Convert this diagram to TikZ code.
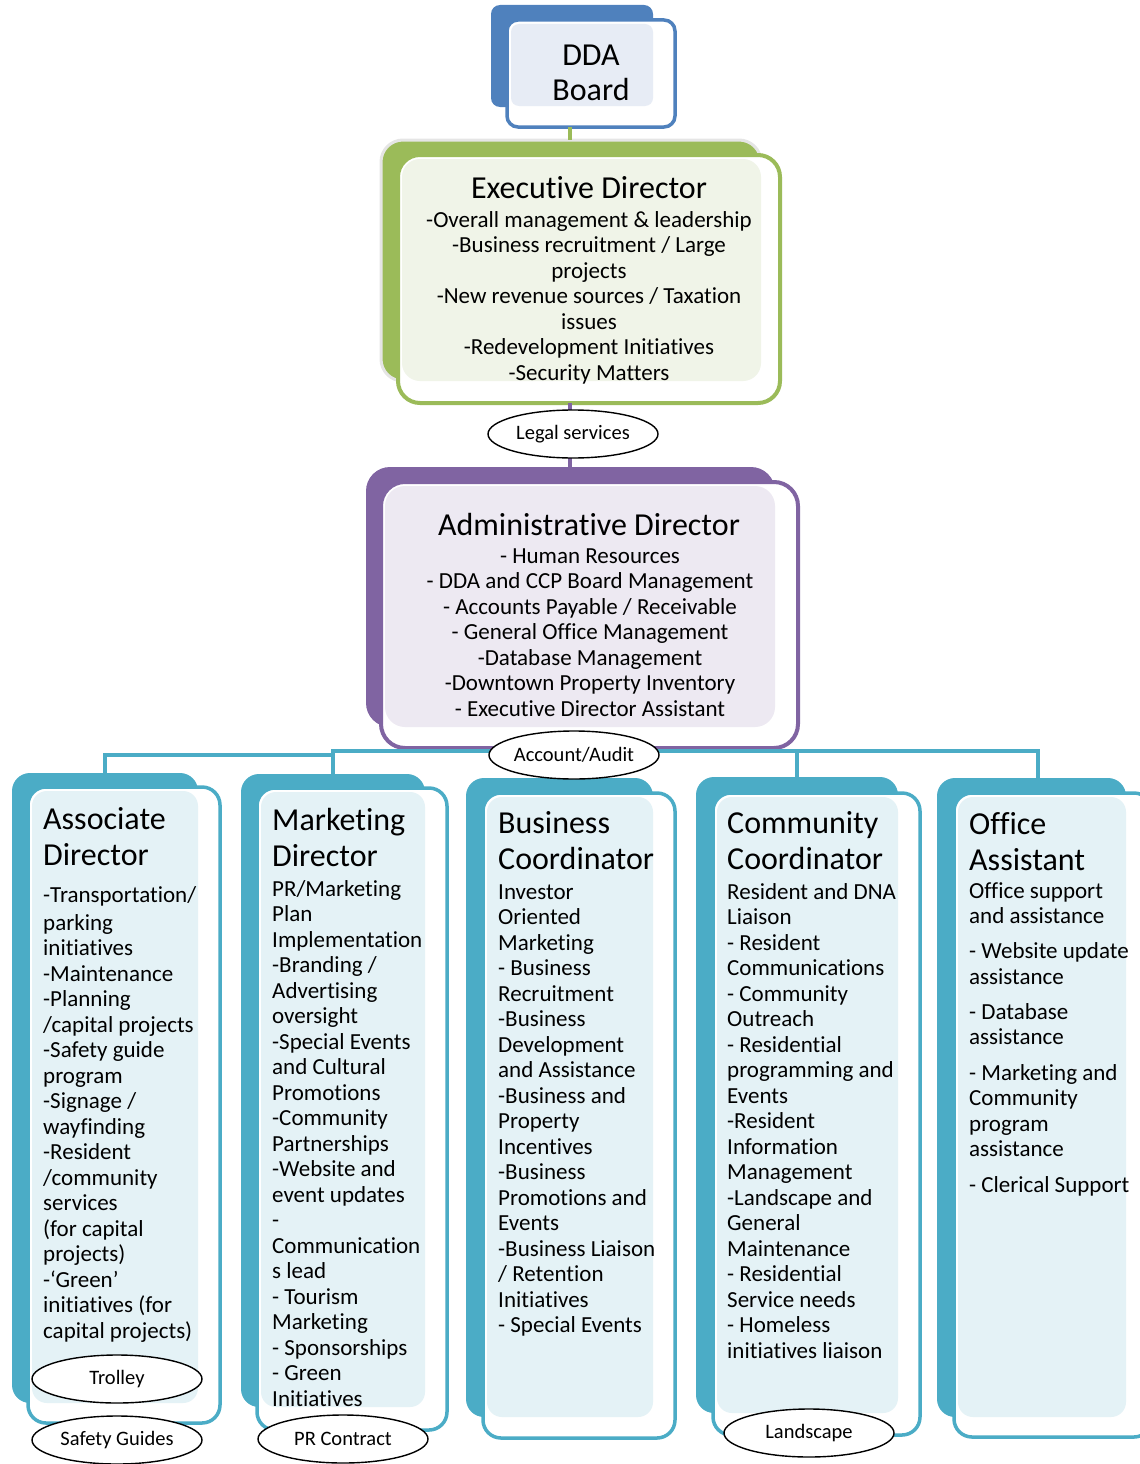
\documentclass[tikz,border=0pt]{standalone}
\usepackage{fontspec}
\setmainfont[Ligatures=NoCommon]{Carlito}
\usetikzlibrary{fit,shapes.geometric}

\definecolor{bbBlue}{HTML}{4F81BD}
\definecolor{bbBluePale}{HTML}{E7ECF5}
\definecolor{bbGreen}{HTML}{9BBB59}
\definecolor{bbGreenPale}{HTML}{F0F4E8}
\definecolor{bbPurple}{HTML}{8064A2}
\definecolor{bbPurplePale}{HTML}{EDE9F2}
\definecolor{bbTeal}{HTML}{4BACC6}
\definecolor{bbTealPale}{HTML}{E4F2F6}

\begin{document}
\begin{tikzpicture}[x=1pt, y=-1pt,
  backpanel/.style={fill=#1, draw=none, rounded corners=18pt, inner sep=0pt, outer sep=0pt},
  frontpanel/.style={fill=white, draw=#1, line width=3.5pt, rounded corners=18pt, inner sep=0pt, outer sep=0pt},
  palepanel/.style={fill=#1, draw=none, rounded corners=15pt, inner sep=0pt, outer sep=0pt},
  titletext/.style={font=\fontsize{32}{36}\selectfont, inner sep=0pt, anchor=base west},
  bodytext/.style={font=\fontsize{23}{25.5}\selectfont, inner sep=0pt, anchor=base west},
  ctitle/.style={font=\fontsize{32}{35}\selectfont, inner sep=0pt, anchor=base},
  cbody/.style={font=\fontsize{23}{25.5}\selectfont, inner sep=0pt, anchor=base},
  tag/.style={ellipse, draw=black, line width=1.4pt, fill=white, minimum width=170pt, minimum height=48pt, inner sep=0pt, font=\fontsize{20.5}{24}\selectfont},
  link/.style={line width=4pt, draw=#1}
]
\useasboundingbox (0,0) rectangle (1140,1464);
\clip (0,0) rectangle (1140,1464);

% ---------- DDA Board ----------
\node[backpanel=bbBlue, rounded corners=9pt, fit={(491,5) (653,107)}] (ddaB) {};
\node[frontpanel=bbBlue, rounded corners=11pt, fit={(507,20) (675,127)}] (ddaF) {};
\node[palepanel=bbBluePale, rounded corners=8pt, fit={(511,24) (653,106)}] (ddaP) {};
\node[ctitle] (ddaT) at (591,66) {\parbox[t]{150pt}{\centering DDA\\Board}};

% ---------- Executive Director ----------
\node[backpanel=bbGreen, draw=black!10, line width=3pt, rounded corners=22pt, fit={(381,140) (761,381)}] (execB) {};
\node[frontpanel=bbGreen, line width=4pt, rounded corners=22pt, fit={(398,155) (780,403)}] (execF) {};
\node[palepanel=bbGreenPale, rounded corners=18pt, fit={(402,159) (761,381)}] (execP) {};
\node[ctitle] (execT) at (589,198) {\parbox[t]{360pt}{\centering Executive Director}};
\node[cbody] (execD) at (589,227) {\parbox[t]{360pt}{\centering
-Overall management \& leadership\\
-Business recruitment / Large\\
projects\\
-New revenue sources / Taxation\\
issues\\
-Redevelopment Initiatives\\
-Security Matters}};

% ---------- Administrative Director ----------
\node[backpanel=bbPurple, rounded corners=24pt, fit={(366,467) (775,727)}] (admB) {};
\node[frontpanel=bbPurple, line width=4pt, rounded corners=24pt, fit={(381,482) (798,748)}] (admF) {};
\node[palepanel=bbPurplePale, rounded corners=20pt, fit={(385,486) (775,727)}] (admP) {};
\node[ctitle] (admT) at (589,535) {\parbox[t]{400pt}{\centering Administrative Director}};
\node[cbody] (admD) at (590,563) {\parbox[t]{400pt}{\centering
- Human Resources\\
- DDA and CCP Board Management\\
- Accounts Payable / Receivable\\
- General Office Management\\
-Database Management\\
-Downtown Property Inventory\\
- Executive Director Assistant}};

% ---------- Staff columns ----------
\node[backpanel=bbTeal, fit={(12,773) (198,1403)}] (c1B) {};
\node[frontpanel=bbTeal, fit={(28,787) (220,1423)}] (c1F) {};
\node[palepanel=bbTealPale, fit={(32,791) (198,1403)}] (c1P) {};

\node[backpanel=bbTeal, fit={(241,774) (425,1407)}] (c2B) {};
\node[frontpanel=bbTeal, fit={(257,788) (447,1430)}] (c2F) {};
\node[palepanel=bbTealPale, fit={(261,792) (425,1407)}] (c2P) {};

\node[backpanel=bbTeal, fit={(466,778) (653,1417)}] (c3B) {};
\node[frontpanel=bbTeal, fit={(483,793) (675,1438)}] (c3F) {};
\node[palepanel=bbTealPale, fit={(487,797) (653,1417)}] (c3P) {};

\node[backpanel=bbTeal, fit={(696,777) (898,1413)}] (c4B) {};
\node[frontpanel=bbTeal, fit={(713,793) (920,1435)}] (c4F) {};
\node[palepanel=bbTealPale, fit={(717,797) (898,1413)}] (c4P) {};

\node[backpanel=bbTeal, fit={(937,778) (1126,1417)}] (c5B) {};
\node[frontpanel=bbTeal, fit={(954,793) (1152,1437)}] (c5F) {};
\node[palepanel=bbTealPale, fit={(958,797) (1126,1417)}] (c5P) {};

% column texts
\node[titletext] (c1T) at (43,829) {\parbox[t]{200pt}{\raggedright Associate\\Director}};
\node[bodytext] (c1D) at (43,902) {\parbox[t]{200pt}{\raggedright
-Transportation/\\[2.5pt]
parking\\
initiatives\\
-Maintenance\\
-Planning\\
/capital projects\\
-Safety guide\\
program\\
-Signage /\\
wayfinding\\
-Resident\\
/community\\
services\\
(for capital\\
projects)\\
-‘Green’\\
initiatives (for\\
capital projects)}};

\node[titletext] (c2T) at (272,830) {\parbox[t]{200pt}{\raggedright Marketing\\Director}};
\node[bodytext] (c2D) at (272,896) {\parbox[t]{200pt}{\raggedright
PR/Marketing\\
Plan\\
Implementation\\
-Branding /\\
Advertising\\
oversight\\
-Special Events\\
and Cultural\\
Promotions\\
-Community\\
Partnerships\\
-Website and\\
event updates\\
-\\
Communication\\
s lead\\
- Tourism\\
Marketing\\
- Sponsorships\\
- Green\\
Initiatives}};

\node[titletext] (c3T) at (498,833) {\parbox[t]{200pt}{\raggedright Business\\Coordinator}};
\node[bodytext] (c3D) at (498,899) {\parbox[t]{200pt}{\raggedright
Investor\\
Oriented\\
Marketing\\
- Business\\
Recruitment\\
-Business\\
Development\\
and Assistance\\
-Business and\\
Property\\
Incentives\\
-Business\\
Promotions and\\
Events\\
-Business Liaison\\
/ Retention\\
Initiatives\\
- Special Events}};

\node[titletext] (c4T) at (727,833) {\parbox[t]{220pt}{\raggedright Community\\Coordinator}};
\node[bodytext] (c4D) at (727,899) {\parbox[t]{220pt}{\raggedright
Resident and DNA\\
Liaison\\
- Resident\\
Communications\\
- Community\\
Outreach\\
- Residential\\
programming and\\
Events\\
-Resident\\
Information\\
Management\\
-Landscape and\\
General\\
Maintenance\\
- Residential\\
Service needs\\
- Homeless\\
initiatives liaison}};

\node[titletext] (c5T) at (969,834) {\parbox[t]{200pt}{\raggedright Office\\Assistant}};
\node[bodytext] (c5D) at (969,898) {\parbox[t]{200pt}{\raggedright
Office support\\
and assistance\\[9.5pt]
- Website update\\
assistance\\[9.5pt]
- Database\\
assistance\\[10pt]
- Marketing and\\
Community\\
program\\
assistance\\[10pt]
- Clerical Support}};

% ---------- Reporting lines ----------
\coordinate (spine) at (570,0);
\coordinate (trunk) at (575,0);
\coordinate (bus) at (575,751);
\coordinate (busL) at (332,755);
\draw[link=bbGreen] (ddaF.south -| spine) -- (execB.north -| spine);
\draw[link=bbPurple] (execF.south -| spine) -- (admB.north -| spine);
\draw[link=bbTeal] (admF.south -| trunk) -- (bus);
\draw[link=bbTeal] (bus) -| (c2B.north);
\draw[link=bbTeal] (bus) -| (c3B.north);
\draw[link=bbTeal] (bus) -| (c4B.north);
\draw[link=bbTeal] (bus) -| ([xshift=6.5pt]c5B.north);
\draw[link=bbTeal] (busL) -| (c1B.north);

% ---------- Support services ----------
\node[tag] (legal) at (573,434) {Legal services};
\node[tag] (audit) at (574,755) {Account/Audit};
\node[tag] (trolley) at (117,1379) {Trolley};
\node[tag] (safety) at (117,1440) {Safety Guides};
\node[tag] (prc) at (343,1439) {PR Contract};
\node[tag] (land) at (809,1433) {Landscape};
\end{tikzpicture}
\end{document}
